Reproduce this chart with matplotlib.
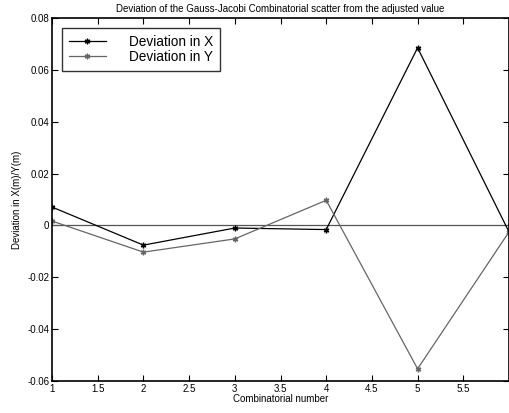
import matplotlib.pyplot as plt

plt.rcParams['font.family'] = ['Liberation Sans', 'DejaVu Sans']

comb = [1, 2, 3, 4, 5, 6]
dev_x = [0.0071, -0.0076, -0.0010, -0.0016, 0.0685, -0.0025]
dev_y = [0.0017, -0.0103, -0.0052, 0.0097, -0.0553, -0.0025]
xticks = [1, 1.5, 2, 2.5, 3, 3.5, 4, 4.5, 5, 5.5]
yticks = [-0.06, -0.04, -0.02, 0, 0.02, 0.04, 0.06, 0.08]

fig = plt.figure(figsize=(5.09, 4.13), dpi=100)
ax = fig.add_axes([52 / 509, 32 / 413, 457 / 509, 363 / 413])

ax.axhline(0, color='#555555', linewidth=0.9)
ax.plot(comb, dev_x, color='black', marker=(6, 2, 0), markersize=4,
        linewidth=0.9, label='Deviation in X')
ax.plot(comb, dev_y, color='#666666', marker=(6, 2, 0), markersize=4,
        linewidth=0.9, label='Deviation in Y')

ax.set_xlim(1, 6)
ax.set_ylim(-0.06, 0.08)
ax.set_xticks(xticks)
ax.set_xticklabels(['1', '1.5', '2', '2.5', '3', '3.5', '4', '4.5', '5', '5.5'])
ax.set_yticks(yticks)
ax.set_yticklabels(['-0.06', '-0.04', '-0.02', '0', '0.02', '0.04', '0.06', '0.08'])
ax.tick_params(direction='in', top=True, right=True, labelsize=7, length=4, pad=2)

for s in ax.spines.values():
    s.set_linewidth(1.2)

ax.set_title('Deviation of the Gauss-Jacobi Combinatorial scatter from the adjusted value',
             fontsize=7, pad=4)
ax.set_xlabel('Combinatorial number', fontsize=7, labelpad=0)
ax.set_ylabel('Deviation in X(m)/Y(m)', fontsize=7, labelpad=4)

leg = ax.legend(loc='upper left', fontsize=9.8, frameon=True, fancybox=False,
                edgecolor='black', handlelength=2.7, borderaxespad=0.75,
                labelspacing=0.05, handletextpad=1.7, borderpad=0.5)
leg.get_frame().set_linewidth(1.0)

fig.savefig('out.png', dpi=100)
